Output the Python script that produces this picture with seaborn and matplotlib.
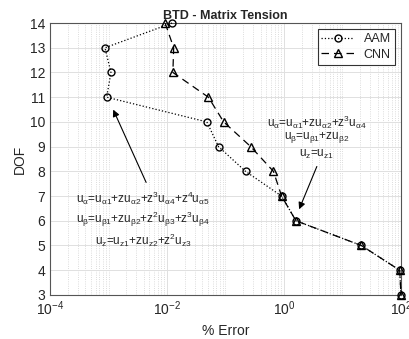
import numpy as np
import pandas as pd
import seaborn as sns
import matplotlib
matplotlib.use('Agg')
import matplotlib.pyplot as plt
from matplotlib.ticker import LogLocator, NullFormatter

# datos
dof = [14, 13, 12, 11, 10, 9, 8, 7, 6, 5, 4, 3]
aam_err = [0.0122, 0.00087, 0.0011, 0.00093, 0.048, 0.076, 0.22, 0.91, 1.6, 21, 95, 100]
cnn_err = [0.0093, 0.013, 0.0126, 0.051, 0.093, 0.27, 0.66, 0.91, 1.6, 21, 95, 100]

sns.set_style('white')
plt.rcParams['font.family'] = ['Liberation Sans', 'DejaVu Sans']
plt.rcParams['mathtext.default'] = 'regular'

fig, ax = plt.subplots(figsize=(4.10, 3.39), dpi=100)
fig.subplots_adjust(left=0.122, right=0.978, top=0.932, bottom=0.13)

sns.lineplot(x=aam_err, y=dof, sort=False, estimator=None, ax=ax, color='black',
             linestyle=':', linewidth=0.9, marker='o', markersize=5,
             markerfacecolor='none', markeredgecolor='black', markeredgewidth=1.0,
             label='AAM', clip_on=False, zorder=3)
sns.lineplot(x=cnn_err, y=dof, sort=False, estimator=None, ax=ax, color='black',
             linestyle=(0, (6, 4)), linewidth=0.9, marker='^', markersize=5.5,
             markerfacecolor='none', markeredgecolor='black', markeredgewidth=1.0,
             label='CNN', clip_on=False, zorder=3)

ax.set_xscale('log')
ax.set_xlim(1e-4, 1e2)
ax.set_ylim(3, 14)
ax.set_xticks([1e-4, 1e-2, 1e0, 1e2])
ax.xaxis.set_minor_locator(LogLocator(base=10, subs=np.arange(1, 10), numticks=20))
ax.xaxis.set_minor_formatter(NullFormatter())
ax.set_yticks(range(3, 15))
ax.grid(True, which='major', color='#e0e0e0', linewidth=0.7)
ax.grid(True, which='minor', axis='x', color='#d0d0d0', linestyle=':', linewidth=0.6)
ax.tick_params(labelsize=10, length=0)
for s in ax.spines.values():
    s.set_color('#555555')
    s.set_linewidth(0.8)

ax.set_title('BTD - Matrix Tension', fontsize=9, fontweight='bold', pad=3)
ax.set_xlabel('% Error', fontsize=10)
ax.set_ylabel('DOF', fontsize=10, labelpad=2)

leg = ax.legend(loc='upper right', fontsize=9, frameon=True, fancybox=False,
                handlelength=2.6, borderpad=0.3, labelspacing=0.3)
leg.get_frame().set_edgecolor('black')
leg.get_frame().set_linewidth(0.8)

# anotaciones
fs = 8.5
ax.text(3.6, 10.0, r'$u_\alpha$=$u_{\alpha 1}$+z$u_{\alpha 2}$+$z^3u_{\alpha 4}$', ha='center', va='center', fontsize=fs)
ax.text(3.6, 9.35, r'$u_\beta$=$u_{\beta 1}$+z$u_{\beta 2}$', ha='center', va='center', fontsize=fs)
ax.text(3.6, 8.7, r'$u_z$=$u_{z1}$', ha='center', va='center', fontsize=fs)
ax.annotate('', xy=(1.74, 6.36), xytext=(3.8, 8.3),
            arrowprops=dict(arrowstyle='-|>', color='black', lw=0.8, mutation_scale=10))

ax.text(0.0039, 6.9, r'$u_\alpha$=$u_{\alpha 1}$+z$u_{\alpha 2}$+$z^3u_{\alpha 4}$+$z^4u_{\alpha 5}$', ha='center', va='center', fontsize=fs)
ax.text(0.0039, 6.05, r'$u_\beta$=$u_{\beta 1}$+z$u_{\beta 2}$+$z^2u_{\beta 3}$+$z^3u_{\beta 4}$', ha='center', va='center', fontsize=fs)
ax.text(0.0039, 5.2, r'$u_z$=$u_{z1}$+z$u_{z2}$+$z^2u_{z3}$', ha='center', va='center', fontsize=fs)
ax.annotate('', xy=(0.00115, 10.6), xytext=(0.0046, 7.45),
            arrowprops=dict(arrowstyle='-|>', color='black', lw=0.8, mutation_scale=10))

fig.savefig('out.png', dpi=100)
